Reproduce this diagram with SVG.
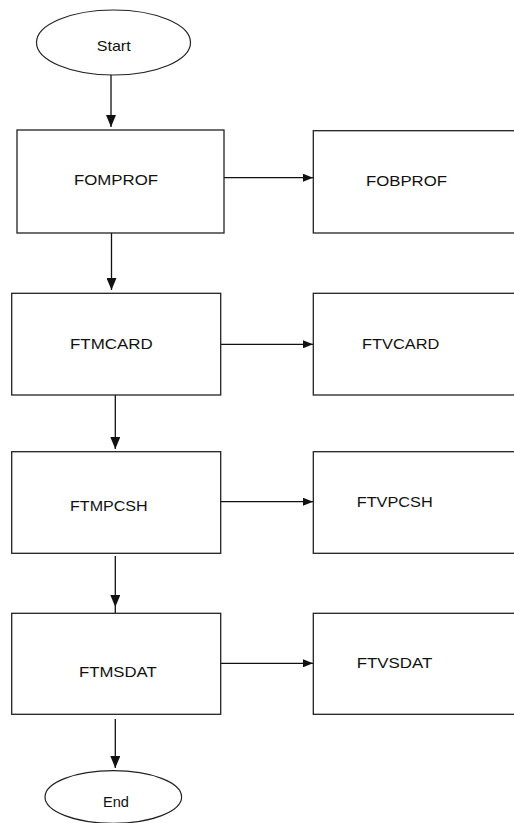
<svg xmlns="http://www.w3.org/2000/svg" width="514" height="823" viewBox="0 0 514 823">
<style>
.box{fill:#fff;stroke:#222;stroke-width:1.3}
.term{fill:#fff;stroke:#222;stroke-width:1.2}
.lbl{font-family:"Liberation Sans",Arial,sans-serif;font-size:15px;fill:#111}
.lbl2{font-family:"Liberation Sans",Arial,sans-serif;font-size:13px;fill:#111}
.con{fill:none;stroke:#111;stroke-width:1.3}
</style>
<defs>
<marker id="ahd" markerUnits="userSpaceOnUse" markerWidth="12" markerHeight="10" refX="12" refY="5" orient="auto" viewBox="0 0 12 10">
<path d="M0,0 L12,5 L0,10 z" fill="#111"/>
</marker>
<marker id="ahr" markerUnits="userSpaceOnUse" markerWidth="10" markerHeight="8" refX="10" refY="4" orient="auto" viewBox="0 0 10 8">
<path d="M0,0 L10,4 L0,8 z" fill="#111"/>
</marker>
</defs>
<g id="connectors">
<path class="con" d="M111,75 V127" marker-end="url(#ahd)"/>
<path class="con" d="M111.5,233 V290" marker-end="url(#ahd)"/>
<path class="con" d="M115.3,395 V449" marker-end="url(#ahd)"/>
<path class="con" d="M115.3,556 L115.3,607 L115.3,613" marker-mid="url(#ahd)"/>
<path class="con" d="M115.3,719 V768" marker-end="url(#ahd)"/>
<path class="con" d="M222,177.7 L313,177.7 L319,177.7" marker-mid="url(#ahr)"/>
<path class="con" d="M220.7,344.3 L313,344.3 L319,344.3" marker-mid="url(#ahr)"/>
<path class="con" d="M220.7,501.7 L313,501.7 L319,501.7" marker-mid="url(#ahr)"/>
<path class="con" d="M220.7,663.3 L313,663.3 L319,663.3" marker-mid="url(#ahr)"/>
</g>
<g id="start">
<ellipse class="term" cx="113.5" cy="42.5" rx="77" ry="32.5"/>
<text class="lbl" x="96.7" y="51" textLength="34" lengthAdjust="spacingAndGlyphs">Start</text>
</g>
<g id="fomprof">
<rect class="box" x="17" y="130" width="207" height="103"/>
<text class="lbl" x="74" y="185" textLength="84" lengthAdjust="spacingAndGlyphs">FOMPROF</text>
</g>
<g id="fobprof">
<rect class="box" x="313.3" y="130.7" width="210" height="102.3"/>
<text class="lbl" x="366" y="186" textLength="81" lengthAdjust="spacingAndGlyphs">FOBPROF</text>
</g>
<g id="ftmcard">
<rect class="box" x="11.7" y="293.3" width="209" height="101.7"/>
<text class="lbl" x="70" y="349" textLength="82.7" lengthAdjust="spacingAndGlyphs">FTMCARD</text>
</g>
<g id="ftvcard">
<rect class="box" x="313.3" y="293.3" width="210" height="101.7"/>
<text class="lbl" x="362" y="349.3" textLength="77.3" lengthAdjust="spacingAndGlyphs">FTVCARD</text>
</g>
<g id="ftmpcsh">
<rect class="box" x="11.7" y="451.7" width="209" height="101.6"/>
<text class="lbl" x="70" y="510.7" textLength="77.7" lengthAdjust="spacingAndGlyphs">FTMPCSH</text>
</g>
<g id="ftvpcsh">
<rect class="box" x="313.3" y="451.7" width="210" height="101.6"/>
<text class="lbl" x="356.7" y="506.7" textLength="76" lengthAdjust="spacingAndGlyphs">FTVPCSH</text>
</g>
<g id="ftmsdat">
<rect class="box" x="11.7" y="613.3" width="209" height="101"/>
<text class="lbl" x="79" y="677.3" textLength="77.7" lengthAdjust="spacingAndGlyphs">FTMSDAT</text>
</g>
<g id="ftvsdat">
<rect class="box" x="313.3" y="613.3" width="210" height="101"/>
<text class="lbl" x="356.7" y="668.3" textLength="75.6" lengthAdjust="spacingAndGlyphs">FTVSDAT</text>
</g>
<g id="end">
<ellipse class="term" cx="113.3" cy="797" rx="68.3" ry="26.3"/>
<text class="lbl" x="103" y="806.7" textLength="26" lengthAdjust="spacingAndGlyphs">End</text>
</g>
</svg>
